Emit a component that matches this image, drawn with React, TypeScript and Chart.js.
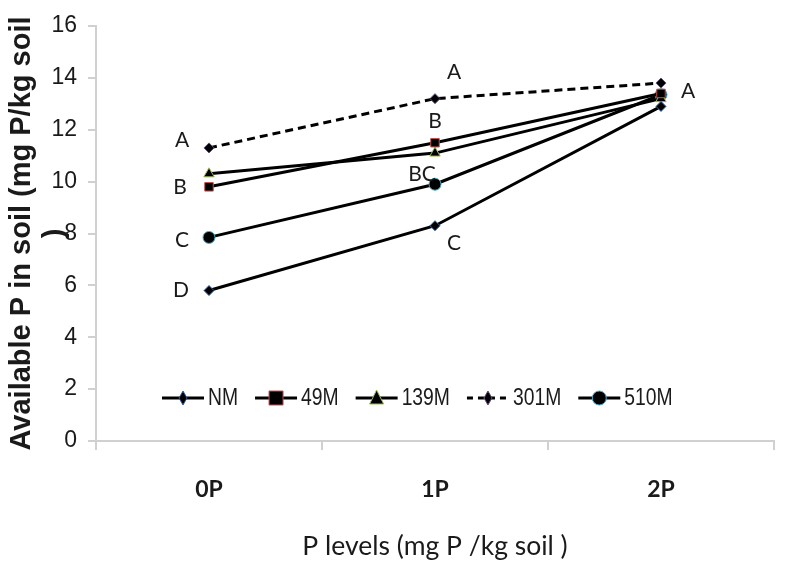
import React, { useEffect, useRef } from "react";
import { Chart, registerables } from "chart.js";

Chart.register(...registerables);

const categories = ["0P", "1P", "2P"];
const seriesNames = ["NM", "49M", "139M", "301M", "510M"];
const nmValues = [5.8, 8.3, 12.9];
const m49Values = [9.8, 11.5, 13.4];
const m139Values = [10.3, 11.1, 13.2];
const m301Values = [11.3, 13.2, 13.8];
const m510Values = [7.85, 9.9, 13.35];
const yMin = 0;
const yMax = 16;
const yStep = 2;

const yTitle = ["Available P in soil (mg P/kg soil", ")"];
const xTitle = "P levels (mg P /kg soil )";

// significance letters: series index, category index, text
const letterSeries = [3, 1, 4, 0, 3, 1, 4, 0, 4];
const letterIndex = [0, 0, 0, 0, 1, 1, 1, 1, 2];
const letterText = ["A", "B", "C", "D", "A", "B", "BC", "C", "A"];
// style: pixel offsets of each letter from its point
const letterOffsets = [
  [-27, -8],
  [-29, 0],
  [-27, 3],
  [-28, 0],
  [19, -26],
  [0, -21],
  [-13, -10],
  [19, 18],
  [27, -4],
];

const markerBorders = ["#2f5f9e", "#c0504d", "#9bbb59", "#604a7b", "#4bacc6"];
const markerStyles = ["rectRot", "rect", "triangle", "rectRot", "circle"];
const markerRadius = [5, 6, 6, 5, 6];
const dashed = [false, false, false, true, false];

const SANS = '"Liberation Sans", Arial, sans-serif';
const HUMAN = 'Lato, "Open Sans", sans-serif';

const lettersPlugin = {
  id: "letters",
  afterDatasetsDraw(chart: any) {
    const ctx = chart.ctx;
    ctx.save();
    ctx.font = `21px ${HUMAN}`;
    ctx.fillStyle = "#1a1a1a";
    ctx.textAlign = "center";
    ctx.textBaseline = "middle";
    letterText.forEach((t, i) => {
      const meta = chart.getDatasetMeta(letterSeries[i]);
      const pt = meta.data[letterIndex[i]];
      if (!pt) return;
      ctx.fillText(t, pt.x + letterOffsets[i][0], pt.y + letterOffsets[i][1]);
    });
    ctx.restore();
  },
};

const legendPlugin = {
  id: "innerLegend",
  afterDatasetsDraw(chart: any) {
    const ctx = chart.ctx;
    const area = chart.chartArea;
    const y = area.bottom - 43;
    const squeeze = 0.84;
    let x = area.left + 66;
    ctx.save();
    ctx.font = `23px ${SANS}`;
    ctx.textBaseline = "middle";
    ctx.textAlign = "left";
    chart.data.datasets.forEach((ds: any, i: number) => {
      const lineLen = 42;
      ctx.strokeStyle = "#000";
      ctx.lineWidth = 3;
      ctx.setLineDash(dashed[i] ? [6, 5] : []);
      ctx.beginPath();
      ctx.moveTo(x, y);
      ctx.lineTo(x + lineLen, y);
      ctx.stroke();
      ctx.setLineDash([]);
      // marker
      const mx = x + lineLen / 2;
      const r = markerRadius[i] + 1;
      ctx.fillStyle = "#000";
      ctx.strokeStyle = markerBorders[i];
      ctx.lineWidth = 1;
      ctx.beginPath();
      const st = markerStyles[i];
      if (st === "rectRot") {
        ctx.moveTo(mx, y - r - 1);
        ctx.lineTo(mx + r - 2, y);
        ctx.lineTo(mx, y + r + 1);
        ctx.lineTo(mx - r + 2, y);
        ctx.closePath();
      } else if (st === "rect") {
        ctx.rect(mx - r, y - r, 2 * r, 2 * r);
      } else if (st === "triangle") {
        ctx.moveTo(mx, y - r - 1);
        ctx.lineTo(mx + r, y + r - 1);
        ctx.lineTo(mx - r, y + r - 1);
        ctx.closePath();
      } else {
        ctx.arc(mx, y, r, 0, Math.PI * 2);
      }
      ctx.fill();
      ctx.stroke();
      ctx.fillStyle = "#1a1a1a";
      const label = ds.label as string;
      const tx = x + lineLen + 4;
      ctx.save();
      ctx.translate(tx, y + 1);
      ctx.scale(squeeze, 1);
      ctx.fillText(label, 0, 0);
      ctx.restore();
      x = tx + ctx.measureText(label).width * squeeze + 17;
    });
    ctx.restore();
  },
};

export default function App() {
  const ref = useRef<HTMLCanvasElement | null>(null);
  useEffect(() => {
    document.body.style.margin = "0";
    const canvas = ref.current;
    if (!canvas) return;
    const values = [nmValues, m49Values, m139Values, m301Values, m510Values];
    const chart = new Chart(canvas, {
      type: "line",
      data: {
        labels: categories,
        datasets: seriesNames.map((name, i) => ({
          label: name,
          data: values[i],
          borderColor: "#000",
          borderWidth: 3,
          borderDash: dashed[i] ? [8, 5] : [],
          backgroundColor: "#000",
          pointBackgroundColor: "#000",
          pointBorderColor: markerBorders[i],
          pointBorderWidth: 1,
          pointStyle: markerStyles[i] as any,
          pointRadius: markerRadius[i],
          tension: 0,
          fill: false,
        })),
      },
      options: {
        responsive: false,
        animation: false,
        devicePixelRatio: 1,
        layout: { padding: { left: 0, right: 14, top: 26, bottom: 0 } },
        plugins: {
          legend: { display: false },
          tooltip: { enabled: false },
        },
        scales: {
          x: {
            offset: true,
            grid: {
              offset: true,
              drawOnChartArea: false,
              drawTicks: true,
              tickLength: 9,
              color: "#d0d0d0",
              lineWidth: 2,
            },
            border: { color: "#d0d0d0", width: 2 },
            ticks: {
              color: "#1a1a1a",
              font: { family: HUMAN, size: 23, weight: "bold" },
              padding: 26,
            },
            title: {
              display: true,
              text: xTitle,
              color: "#1a1a1a",
              font: { family: HUMAN, size: 26.5 },
              padding: { top: 0, bottom: 2 },
            },
            afterFit(scale: any) {
              scale.height = 123;
            },
          },
          y: {
            min: yMin,
            max: yMax,
            ticks: {
              stepSize: yStep,
              color: "#1a1a1a",
              font: { family: SANS, size: 23 },
              padding: 11,
            },
            grid: {
              drawOnChartArea: false,
              drawTicks: true,
              tickLength: 8,
              color: "#d0d0d0",
              lineWidth: 2,
            },
            border: { color: "#d0d0d0", width: 2 },
            title: {
              display: true,
              text: yTitle,
              color: "#1a1a1a",
              font: { family: SANS, size: 29, weight: "bold", lineHeight: 1.15 },
              padding: { top: 5, bottom: 0 },
            },
            afterFit(scale: any) {
              scale.width = 96;
            },
          },
        },
      },
      plugins: [lettersPlugin, legendPlugin],
    });
    return () => chart.destroy();
  }, []);
  return (
    <div style={{ position: "fixed", left: 0, top: 0, width: 788, height: 564, background: "#fff" }}>
      <canvas ref={ref} width={788} height={564} />
    </div>
  );
}
